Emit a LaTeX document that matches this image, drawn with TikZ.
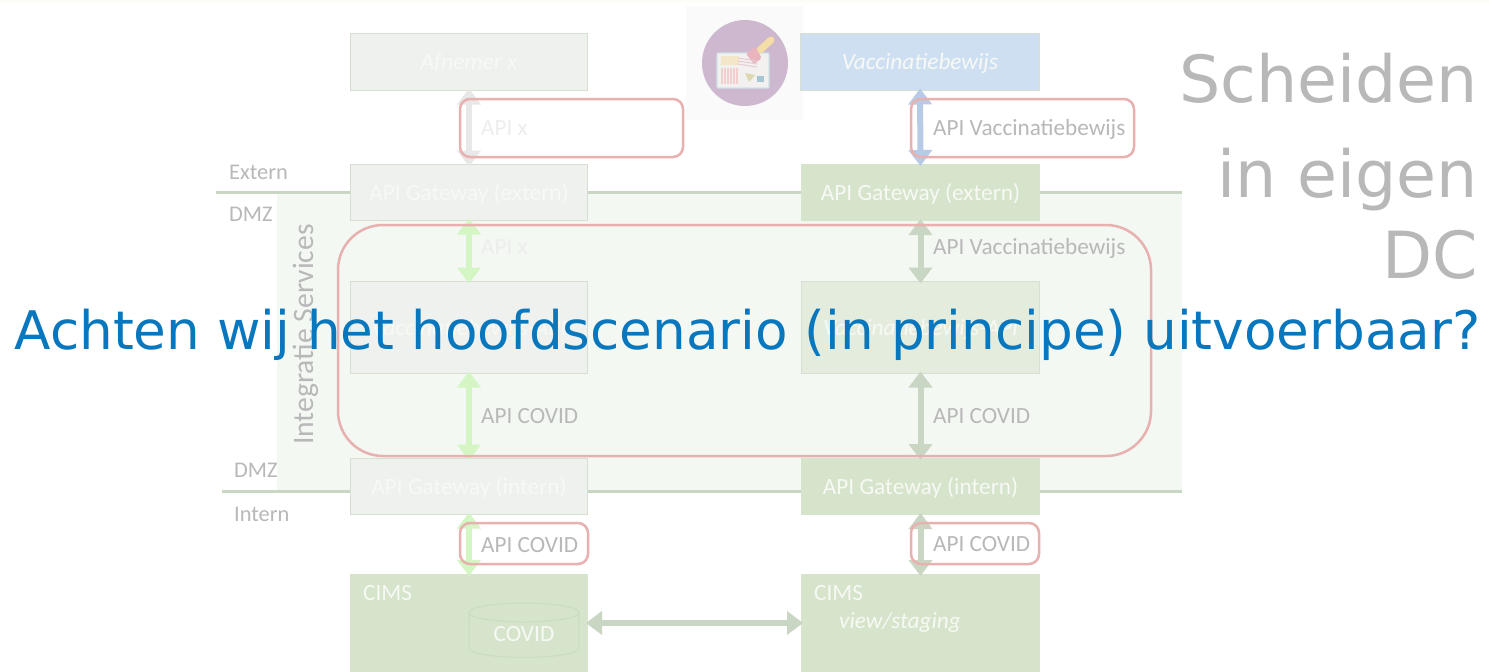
\documentclass[tikz,border=0pt]{standalone}
\usepackage{fontspec}
\setmainfont{Carlito}
\newfontfamily\titlefont{DejaVu Sans}
\usetikzlibrary{arrows.meta}
\definecolor{lineg}{HTML}{C9D6C4}
\definecolor{bandg}{HTML}{F3F8F3}
\definecolor{boxgray}{HTML}{EFF1EF}
\definecolor{boxedge}{HTML}{D6DFD1}
\definecolor{boxgreen}{HTML}{D6E4CB}
\definecolor{boxpale}{HTML}{E4EDDD}
\definecolor{boxblue}{HTML}{CDDFF1}
\definecolor{redline}{HTML}{E9B0B0}
\definecolor{labelgray}{HTML}{B8B8B8}
\definecolor{fadetext}{HTML}{EDEDED}
\definecolor{titleblue}{HTML}{0877BD}
\definecolor{whitetxt}{HTML}{F7F9F5}
\definecolor{arrgreen}{HTML}{D4F5C4}
\definecolor{arrblue}{HTML}{B7CBE6}
\definecolor{arrgray}{HTML}{E8E8E8}
\definecolor{iconbg}{HTML}{FAFAFA}
\definecolor{iconcirc}{HTML}{CDB8CF}
\definecolor{iconcard}{HTML}{F3F1F0}
\definecolor{iconedge}{HTML}{CFE2E6}
\definecolor{iconyel}{HTML}{F4E7C9}
\definecolor{iconpink}{HTML}{F0CFCC}
\definecolor{iconhandle}{HTML}{F5DDA8}
\definecolor{iconstamp}{HTML}{E9B4BE}
\definecolor{iconlines}{HTML}{E6CAD2}
\definecolor{icontri}{HTML}{DDD8B0}
\definecolor{iconsq}{HTML}{A5C6D2}
\definecolor{cyledge}{HTML}{CCDDBF}
\definecolor{topstrip}{HTML}{FDFDF6}
\tikzset{
  x=1pt,y=-1pt,
  boxbase/.style={rectangle,draw=boxedge,line width=1.4pt,inner sep=0pt,outer sep=0pt,minimum width=237pt,text=whitetxt,text height=17pt,text depth=2pt,font=\fontsize{23.3}{24}\selectfont},
  graybox/.style={boxbase,fill=boxgray},
  greenbox/.style={boxbase,fill=boxgreen,draw=none,minimum width=239pt},
  palebox/.style={boxbase,fill=boxpale},
  bluebox/.style={boxbase,fill=boxblue},
  redbox/.style={draw=redline,line width=2.5pt,rounded corners=10pt},
  apilabel/.style={anchor=base west,inner sep=0pt,text=labelgray,font=\fontsize{23.2}{24}\selectfont},
  sidelabel/.style={anchor=base west,inner sep=0pt,text=labelgray,font=\fontsize{22.4}{24}\selectfont},
  plainwhite/.style={inner sep=0pt,text=whitetxt,font=\fontsize{23.3}{24}\selectfont},
  biarrow/.style={line width=6pt,{Triangle[width=23pt,length=16pt]}-{Triangle[width=23pt,length=16pt]},shorten >=-2pt,shorten <=-2pt},
  bigtext/.style={anchor=base east,inner sep=0pt,text=labelgray,font=\titlefont\fontsize{65}{70}\selectfont},
}
\begin{document}
\begin{tikzpicture}
\useasboundingbox (0,0) rectangle (1489,672);
\fill[white] (0,0) rectangle (1489,672);
\fill[topstrip] (0,0) rectangle (1489,3);
% band and zone lines
\fill[bandg] (277,193) rectangle (1182,491);
\coordinate (extL) at (216,192); \coordinate (extR) at (1182,192);
\coordinate (intL) at (222,491); \coordinate (intR) at (1182,491);
\draw[lineg,line width=3pt] (extL) -- (extR);
\draw[lineg,line width=3pt] (intL) -- (intR);
% icon
\fill[iconbg] (686,6) rectangle (803,120);
\fill[iconcirc] (745,63) circle (43);
\draw[iconedge,fill=iconcard,line width=1.2pt,rounded corners=1pt] (717,53) rectangle (769,88);
\fill[iconyel] (721,56) rectangle (739,65);
\fill[iconpink] (721,68) rectangle (739,84);
\foreach \xx in {723,726,729,732,735,738} \draw[iconcard,line width=1pt] (\xx,68) -- (\xx,84);
\draw[iconhandle,line width=7pt,line cap=round] (760,50) -- (771,40);
\fill[iconstamp,rounded corners=2pt] (746,54) -- (755,47) -- (762,58) -- (754,64) -- cycle;
\foreach \yy in {58,61,64} \draw[iconlines,line width=1pt] (738,\yy) -- (757,\yy+3);
\fill[icontri] (745,73) -- (755,75) -- (749,82) -- cycle;
\fill[iconsq] (757,76) rectangle (764,82);
% boxes
\node[graybox,minimum height=57pt] (afn) at (469,62) {\itshape Afnemer x};
\node[bluebox,minimum height=57pt,minimum width=239pt] (vac) at (920,62) {\itshape Vaccinatiebewijs};
\node[graybox,minimum height=56pt] (gel) at (469,192.5) {API Gateway (extern)};
\node[greenbox,minimum height=57pt] (ger) at (920.5,192.5) {API Gateway (extern)};
\node[graybox,minimum height=92pt] (mil) at (469,327.5) {\itshape Vaccinatiebewijs-API};
\node[palebox,minimum height=92pt,minimum width=238pt] (mir) at (920.5,327.5) {\itshape Vaccinatiebewijs-API};
\node[graybox,minimum height=56pt] (gil) at (469,486.5) {API Gateway (intern)};
\node[greenbox,minimum height=57pt] (gir) at (920.5,486.5) {API Gateway (intern)};
\node[greenbox,minimum height=98pt,minimum width=238pt] (cil) at (469,623) {};
\node[greenbox,minimum height=98pt] (cir) at (920.5,623) {};
\node[plainwhite,anchor=west] (cilt) at (363,593) {CIMS};
\node[plainwhite,anchor=west] (cirt) at (814,593) {CIMS};
\node[plainwhite,anchor=west,font=\itshape\fontsize{23.3}{24}\selectfont] (cirv) at (839,622) {view/staging};
% database cylinder
\draw[cyledge,line width=1.2pt] (524,612.5) ellipse [x radius=55,y radius=9.5];
\draw[cyledge,line width=1.2pt] (469,612.5) -- (469,648) arc [start angle=180,end angle=0,x radius=55,y radius=9.5] -- (579,612.5);
\node[plainwhite] (covt) at (524,634) {COVID};
% connectors
\draw[biarrow,arrgray] (afn) -- (gel);
\draw[biarrow,arrblue] (vac) -- (ger);
\draw[biarrow,arrgreen] (gel) -- (mil);
\draw[biarrow,lineg] (ger) -- (mir);
\draw[biarrow,arrgreen] (mil) -- (gil);
\draw[biarrow,lineg] (mir) -- (gir);
\draw[biarrow,arrgreen] (gil) -- (cil);
\draw[biarrow,lineg] (gir) -- (cir);
\draw[biarrow,lineg] (cil) -- (cir);
% red frames
\draw[redbox] (460,99) rectangle (683,157);
\draw[redbox] (911,99) rectangle (1134,157);
\draw[redbox,rounded corners=45pt] (338,225) rectangle (1151,456);
\draw[redbox] (460,523) rectangle (588,564);
\draw[redbox] (911,523) rectangle (1039,564);
% labels
\node[apilabel,text=fadetext] (l1) at (481,135) {API x};
\node[apilabel] (l2) at (933,135) {API Vaccinatiebewijs};
\node[apilabel,text=fadetext] (l3) at (481,254) {API x};
\node[apilabel] (l4) at (933,254) {API Vaccinatiebewijs};
\node[apilabel] (l5) at (481,423) {API COVID};
\node[apilabel] (l6) at (933,423) {API COVID};
\node[apilabel] (l7) at (481,552) {API COVID};
\node[apilabel] (l8) at (933,551) {API COVID};
\node[sidelabel] (z1) at (229,179) {Extern};
\node[sidelabel] (z2) at (229,221) {DMZ};
\node[sidelabel] (z3) at (234,477) {DMZ};
\node[sidelabel] (z4) at (234,521) {Intern};
\node[rotate=90,anchor=base west,inner sep=0pt,text=labelgray,font=\fontsize{29.6}{30}\selectfont] (is) at (313,445) {Integratie Services};
% big texts
\node[bigtext] (s1) at (1478,102) {Scheiden};
\node[bigtext] (s2) at (1478,197) {in eigen};
\node[bigtext] (s3) at (1478,278) {DC};
\node[anchor=base,inner sep=0pt,text=titleblue,font=\titlefont\fontsize{53.2}{60}\selectfont] (title) at (747.5,349) {Achten wij het hoofdscenario (in principe) uitvoerbaar?};
\end{tikzpicture}
\end{document}
